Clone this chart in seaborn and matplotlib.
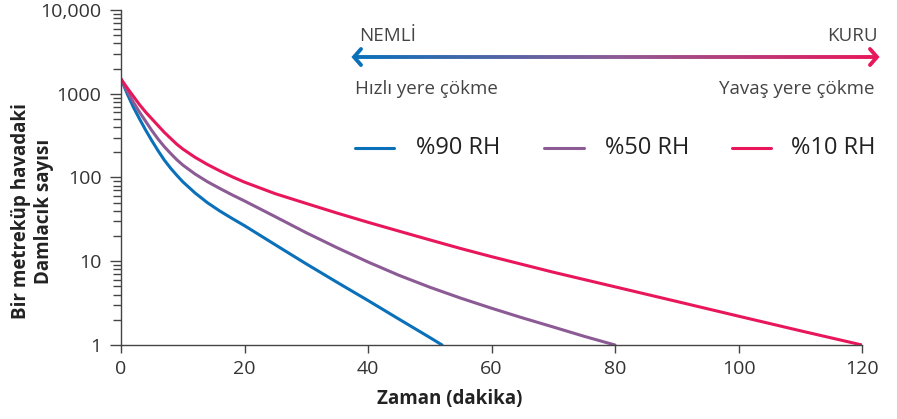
import matplotlib
matplotlib.use("Agg")
import matplotlib.pyplot as plt
import numpy as np
import pandas as pd
import seaborn as sns
from matplotlib.collections import LineCollection
from matplotlib.lines import Line2D

# data (time in minutes, droplets per m3)
t_rh90 = [0, 1, 2, 3, 4, 5, 6, 7, 8, 9, 10, 12, 14, 16, 18, 20, 25, 30, 35, 40, 45, 50, 52]
n_rh90 = [1500, 1000, 692, 501, 367, 275, 209, 162, 130, 107, 89, 65.3, 50, 39.8, 32.4,
          26.6, 15.7, 9.3, 5.6, 3.4, 2.04, 1.23, 1]

t_rh50 = [0, 1, 2, 3, 4, 5, 6, 7, 8, 9, 10, 12, 14, 16, 18, 20, 25, 30, 35, 40, 45, 50,
          55, 60, 65, 70, 75, 80]
n_rh50 = [1500, 1072, 794, 603, 468, 363, 288, 234, 195, 164, 141, 110, 89, 74, 62, 52.5,
          34, 21.9, 14.5, 9.8, 6.8, 4.9, 3.63, 2.75, 2.11, 1.64, 1.27, 1]

t_rh10 = [0, 1, 2, 3, 4, 5, 6, 7, 8, 9, 10, 12, 14, 16, 18, 20, 25, 30, 35, 40, 45, 50,
          55, 60, 70, 80, 90, 100, 110, 120]
n_rh10 = [1500, 1175, 933, 741, 603, 501, 417, 347, 295, 251, 219, 174, 143, 120, 102, 88,
          64, 49, 37.6, 29.2, 22.9, 18.0, 14.2, 11.35, 7.4, 4.95, 3.31, 2.21, 1.48, 1]

labels = ["%90 RH", "%50 RH", "%10 RH"]
colors = ["#0a70b9", "#8c5b95", "#e8175b"]
x_ticks = [0, 20, 40, 60, 80, 100, 120]
y_ticks = [1, 10, 100, 1000, 10000]
y_tick_labels = ["1", "10", "100", "1000", "10,000"]

df = pd.concat([
    pd.DataFrame({"t": t_rh90, "n": n_rh90, "rh": labels[0]}),
    pd.DataFrame({"t": t_rh50, "n": n_rh50, "rh": labels[1]}),
    pd.DataFrame({"t": t_rh10, "n": n_rh10, "rh": labels[2]}),
])

sns.set_style("ticks")
plt.rcParams["font.family"] = ["Open Sans", "DejaVu Sans"]
text_col = "#333333"
axis_col = "#444444"

fig = plt.figure(figsize=(8.97, 4.19), dpi=100)
ax = fig.add_axes([121 / 897, 1 - 345 / 419, (862 - 121) / 897, (345 - 10) / 419])

sns.lineplot(data=df, x="t", y="n", hue="rh", palette=colors, linewidth=2.2,
             ax=ax, legend=False, sort=False)

ax.set_yscale("log")
ax.set_xlim(0, 120)
ax.set_ylim(1, 10000)
ax.set_xticks(x_ticks)
ax.set_xticklabels([str(v) for v in x_ticks], fontsize=14, color=text_col)
ax.set_yticks(y_ticks)
ax.set_yticklabels(y_tick_labels, fontsize=14, color=text_col)
ax.tick_params(axis="y", which="major", length=8, width=1, color=axis_col, pad=6)
ax.tick_params(axis="y", which="minor", length=6, width=1, color=axis_col)
ax.tick_params(axis="x", length=6, width=1, color=axis_col, pad=5)
for s in ["top", "right"]:
    ax.spines[s].set_visible(False)
for s in ["left", "bottom"]:
    ax.spines[s].set_color(axis_col)
    ax.spines[s].set_linewidth(1)

ax.set_xlabel("Zaman (dakika)", fontsize=13.5, fontweight="bold", color="#222222")
ax.xaxis.set_label_coords(0.444, -0.13)
ax.set_ylabel("Bir metreküp havadaki\nDamlacık sayısı", fontsize=13.5, fontweight="bold",
              color="#222222", linespacing=1.25)
ax.yaxis.set_label_coords(-0.09, 0.40)

# legend row, placed like the reference
leg_y = 1 - 148 / 419
leg_lines = [(355, 394), (544, 584), (732, 771)]
leg_text_x = [416, 605, 791]
for (a, b), tx, c, lab in zip(leg_lines, leg_text_x, colors, labels):
    fig.add_artist(Line2D([a / 897, b / 897], [leg_y, leg_y], color=c, linewidth=2.2,
                          transform=fig.transFigure))
    fig.text(tx / 897, leg_y, lab, fontsize=17, color="#222222", va="center", ha="left")

# gradient arrow NEMLİ -> KURU
x0, x1, ya = 354 / 897, 877 / 897, 1 - 57 / 419
xs = np.linspace(x0, x1, 250)
segs = [[(xs[i], ya), (xs[i + 1], ya)] for i in range(len(xs) - 1)]
cmap = matplotlib.colors.LinearSegmentedColormap.from_list("g", colors)
lc = LineCollection(segs, colors=cmap(np.linspace(0, 1, len(segs))), linewidths=2.8,
                    transform=fig.transFigure, capstyle="butt")
fig.add_artist(lc)
dx, dy = 7 / 897, 8 / 419
fig.add_artist(Line2D([x0 + dx, x0, x0 + dx], [ya + dy, ya, ya - dy], color=colors[0],
                      linewidth=2.8, transform=fig.transFigure, solid_joinstyle="miter"))
fig.add_artist(Line2D([x1 - dx, x1, x1 - dx], [ya + dy, ya, ya - dy], color=colors[2],
                      linewidth=2.8, transform=fig.transFigure, solid_joinstyle="miter"))

top_col = "#444444"
fig.text(359 / 897, 1 - 41 / 419, "NEMLİ", fontsize=13.5, color=top_col, va="baseline", ha="left")
fig.text(878 / 897, 1 - 41 / 419, "KURU", fontsize=13.5, color=top_col, va="baseline", ha="right")
fig.text(355 / 897, 1 - 94 / 419, "Hızlı yere çökme", fontsize=13.5, color=top_col,
         va="baseline", ha="left")
fig.text(874 / 897, 1 - 94 / 419, "Yavaş yere çökme", fontsize=13.5, color=top_col,
         va="baseline", ha="right")

fig.savefig("out.png", dpi=100)
